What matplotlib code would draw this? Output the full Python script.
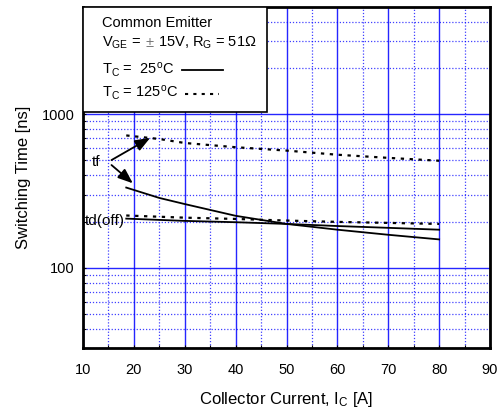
import numpy as np
import matplotlib
matplotlib.use("Agg")
import matplotlib.pyplot as plt
from matplotlib.ticker import FixedLocator, NullFormatter, FixedFormatter

plt.rcParams["font.family"] = ["Liberation Sans", "DejaVu Sans"]
plt.rcParams["mathtext.fontset"] = "custom"
plt.rcParams["mathtext.rm"] = "Liberation Sans"
plt.rcParams["mathtext.it"] = "Liberation Sans"

# ==================================================
# DATA
# ==================================================

ic = [18.5, 25, 30, 40, 50, 60, 70, 80]

tf_25 = [333, 285, 260, 218, 193, 177, 164, 153]
tf_125 = [728, 690, 650, 610, 580, 545, 520, 498]
tdoff_25 = [209, 205, 202, 198, 193, 187, 182, 177]
tdoff_125 = [219, 215, 212, 208, 203, 199, 196, 193]

x_ticks = [10, 20, 30, 40, 50, 60, 70, 80, 90]
y_ticks = [100, 1000]

# ==================================================
# PLOT
# ==================================================

fig = plt.figure(figsize=(4.99, 4.13), dpi=100)
ax = fig.add_axes([83 / 499, 1 - 348 / 413, 407 / 499, 341 / 413])

ax.set_yscale("log")
ax.set_xlim(10, 90)
ax.set_ylim(30, 5000)

blue = "#0000ff"
ax.xaxis.set_major_locator(FixedLocator(x_ticks))
ax.xaxis.set_minor_locator(FixedLocator(np.arange(15, 90, 10)))
ax.yaxis.set_major_locator(FixedLocator(y_ticks))
ax.yaxis.set_major_formatter(FixedFormatter([str(v) for v in y_ticks]))
minor_y = [v * d for d in (10, 100, 1000) for v in range(2, 10) if 30 <= v * d < 5000]
ax.yaxis.set_minor_locator(FixedLocator(minor_y))
ax.yaxis.set_minor_formatter(NullFormatter())

ax.grid(True, which="major", color=blue, lw=1.0, ls="-", alpha=0.85)
ax.grid(True, which="minor", color=blue, lw=0.9, ls=(0, (1, 1.5)), alpha=0.75)
ax.set_axisbelow(True)

ax.tick_params(which="both", direction="in", length=2, width=0.8, labelsize=10.5)
ax.tick_params(axis="x", pad=11)
ax.tick_params(axis="y", pad=6)
for s in ax.spines.values():
    s.set_linewidth(2)

ax.plot(ic, tf_25, color="black", lw=1.3)
ax.plot(ic, tf_125, color="black", lw=1.6, ls=(0, (1.5, 2.5)))
ax.plot(ic, tdoff_25, color="black", lw=1.3)
ax.plot(ic, tdoff_125, color="black", lw=1.6, ls=(0, (1.5, 2.5)))

# curve labels and arrows
arrow = dict(arrowstyle="-|>,head_length=0.9,head_width=0.35",
             color="black", lw=1.3, shrinkA=0, shrinkB=0)
ax.text(12.6, 490, "tf", fontsize=11, ha="center", va="center")
ax.annotate("", xy=(23.2, 702), xytext=(15.6, 503), arrowprops=arrow)
ax.annotate("", xy=(19.8, 355), xytext=(15.6, 467), arrowprops=arrow)
ax.text(14.3, 202, "td(off)", fontsize=11, ha="center", va="center")

# condition box
box = plt.Rectangle((0, 1 - 105 / 341), 184 / 407, 105 / 341, transform=ax.transAxes,
                    facecolor="white", edgecolor="black", lw=1.2, zorder=5)
ax.add_patch(box)
tx = 19 / 407
fs = 10.5
ax.text(tx, 1 - 16 / 341, "Common Emitter", transform=ax.transAxes,
        fontsize=fs, va="center", zorder=6)
ax.text(tx, 1 - 36 / 341, r"V$_{\rm GE}$ = ", transform=ax.transAxes,
        fontsize=fs, va="center", zorder=6)
ax.text(tx + 43 / 407, 1 - 36 / 341, r"$\pm$", transform=ax.transAxes,
        fontsize=fs, va="center", color="#777777", zorder=6)
ax.text(tx + 56 / 407, 1 - 36 / 341, r"15V, R$_{\rm G}$ = 51$\Omega$",
        transform=ax.transAxes, fontsize=fs, va="center", zorder=6)
ax.text(tx, 1 - 63 / 341, r"T$_{\rm C}$ =  25$^{\rm o}$C", transform=ax.transAxes,
        fontsize=fs, va="center", zorder=6)
ax.text(tx, 1 - 86 / 341, r"T$_{\rm C}$ = 125$^{\rm o}$C", transform=ax.transAxes,
        fontsize=fs, va="center", zorder=6)
ax.plot([99 / 407, 140 / 407], [1 - 63 / 341] * 2, transform=ax.transAxes,
        color="black", lw=1.3, zorder=6)
ax.plot([102 / 407, 136 / 407], [1 - 87 / 341] * 2, transform=ax.transAxes,
        color="black", lw=1.5, ls=(0, (1.5, 2.5)), zorder=6)

ax.set_xlabel(r"Collector Current, I$_{\rm C}$ [A]", fontsize=12, labelpad=9)
ax.set_ylabel("Switching Time [ns]", fontsize=12, labelpad=8)

fig.savefig("out.png", dpi=100)
